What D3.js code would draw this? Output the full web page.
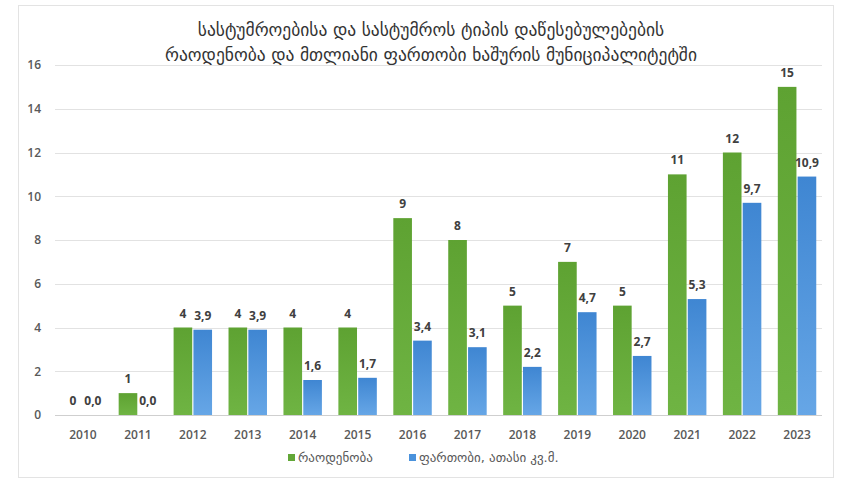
<!DOCTYPE html>
<html>
<head>
<meta charset="utf-8">
<script src="https://cdn.jsdelivr.net/npm/d3@7"></script>
<style>
  body { margin: 0; background: #fff; }
  svg { display: block; }
</style>
</head>
<body>
<svg id="chart" width="841" height="481"></svg>
<script>
var years = ["2010", "2011", "2012", "2013", "2014", "2015", "2016", "2017", "2018", "2019", "2020", "2021", "2022", "2023"];
var countValues = [0, 1, 4, 4, 4, 4, 9, 8, 5, 7, 5, 11, 12, 15];
var areaValues = [0, 0, 3.9, 3.9, 1.6, 1.7, 3.4, 3.1, 2.2, 4.7, 2.7, 5.3, 9.7, 10.9];
var yTicks = [0, 2, 4, 6, 8, 10, 12, 14, 16];
var titleLines = ["სასტუმროებისა და სასტუმროს ტიპის დაწესებულებების", "რაოდენობა და მთლიანი ფართობი ხაშურის მუნიციპალიტეტში"];
var seriesNames = ["რაოდენობა", "ფართობი, ათასი კვ.მ."];

var geoFont = "'DejaVu Sans', sans-serif";
var numFont = "'Open Sans', 'Liberation Sans', sans-serif";

var svg = d3.select("#chart");

var defs = svg.append("defs");
function grad(id, c1, c2) {
    var g = defs.append("linearGradient").attr("id", id)
        .attr("x1", 0).attr("y1", 0).attr("x2", 0).attr("y2", 1);
    g.append("stop").attr("offset", "0%").attr("stop-color", c1);
    g.append("stop").attr("offset", "100%").attr("stop-color", c2);
}
grad("gGreen", "#5ea232", "#6fb443");
grad("gBlue", "#3f86d2", "#66a6e6");

// chart frame
svg.append("rect")
    .attr("x", 18.5).attr("y", 5.5)
    .attr("width", 815).attr("height", 472)
    .attr("fill", "#fff")
    .attr("stroke", "#e3e3e3");

var x = d3.scaleBand()
    .domain(years)
    .range([55.5, 824.5])
    .paddingInner(0.3)
    .paddingOuter(0.15);

var xSub = d3.scaleBand()
    .domain([0, 1])
    .range([0, x.bandwidth()])
    .paddingInner(0.06);

var y = d3.scaleLinear()
    .domain([0, 16])
    .range([415, 65]);

// gridlines
svg.append("g")
    .selectAll("line")
    .data(yTicks)
    .join("line")
    .attr("x1", 55).attr("x2", 822)
    .attr("y1", function(d) { return Math.round(y(d)) + 0.5; })
    .attr("y2", function(d) { return Math.round(y(d)) + 0.5; })
    .attr("stroke", function(d) { return d === 0 ? "#cfcfcf" : "#e2e2e2"; })
    .attr("stroke-width", 1);

// y axis labels
var yAxis = d3.axisLeft(y).tickValues(yTicks).tickSize(0).tickPadding(0);
var gy = svg.append("g")
    .attr("transform", "translate(41,0)")
    .call(yAxis);
gy.select(".domain").remove();
gy.selectAll("text")
    .attr("font-family", numFont)
    .attr("font-size", "12px")
    .attr("font-weight", 600)
    .attr("fill", "#595959");

// x axis labels
var xAxis = d3.axisBottom(x).tickSize(0).tickPadding(0);
var gx = svg.append("g")
    .attr("transform", "translate(0,430)")
    .call(xAxis);
gx.select(".domain").remove();
gx.selectAll("text")
    .attr("font-family", numFont)
    .attr("font-size", "12px")
    .attr("font-weight", 600)
    .attr("fill", "#595959");

var rows = years.map(function(yr, i) {
    return { year: yr, vals: [countValues[i], areaValues[i]] };
});
var fills = ["url(#gGreen)", "url(#gBlue)"];
var fmtArea = function(v) { return d3.format(".1f")(v).replace(".", ","); };

var groups = svg.append("g")
    .selectAll("g")
    .data(rows)
    .join("g")
    .attr("transform", function(d) { return "translate(" + x(d.year) + ",0)"; });

groups.selectAll("rect")
    .data(function(d) { return d.vals; })
    .join("rect")
    .attr("x", function(d, i) { return xSub(i); })
    .attr("y", function(d) { return y(d); })
    .attr("width", xSub.bandwidth())
    .attr("height", function(d) { return y(0) - y(d); })
    .attr("fill", function(d, i) { return fills[i]; });

groups.selectAll("text")
    .data(function(d) { return d.vals; })
    .join("text")
    .attr("x", function(d, i) { return xSub(i) + xSub.bandwidth() / 2; })
    .attr("y", function(d) { return y(d) - 10; })
    .attr("text-anchor", "middle")
    .attr("font-family", numFont)
    .attr("font-size", "12px")
    .attr("font-weight", 700)
    .attr("fill", "#404040")
    .text(function(d, i) { return i === 0 ? d : fmtArea(d); });

// title
svg.append("g")
    .selectAll("text")
    .data(titleLines)
    .join("text")
    .attr("x", 431)
    .attr("y", function(d, i) { return 36 + i * 25; })
    .attr("text-anchor", "middle")
    .attr("font-family", geoFont)
    .attr("font-size", "17.5px")
    .attr("fill", "#333")
    .text(function(d) { return d; });

// legend
var legendColors = ["#62a737", "#4a92dc"];
var legend = svg.append("g").attr("transform", "translate(288,458)");
var lx = [0, 121];
var li = legend.selectAll("g")
    .data(seriesNames)
    .join("g")
    .attr("transform", function(d, i) { return "translate(" + lx[i] + ",0)"; });
li.append("rect")
    .attr("x", 0).attr("y", -4)
    .attr("width", 7).attr("height", 7)
    .attr("fill", function(d, i) { return legendColors[i]; });
li.append("text")
    .attr("x", 10).attr("y", 4)
    .attr("font-family", geoFont)
    .attr("font-size", "13px")
    .attr("fill", "#595959")
    .text(function(d) { return d; });
</script>
</body>
</html>
